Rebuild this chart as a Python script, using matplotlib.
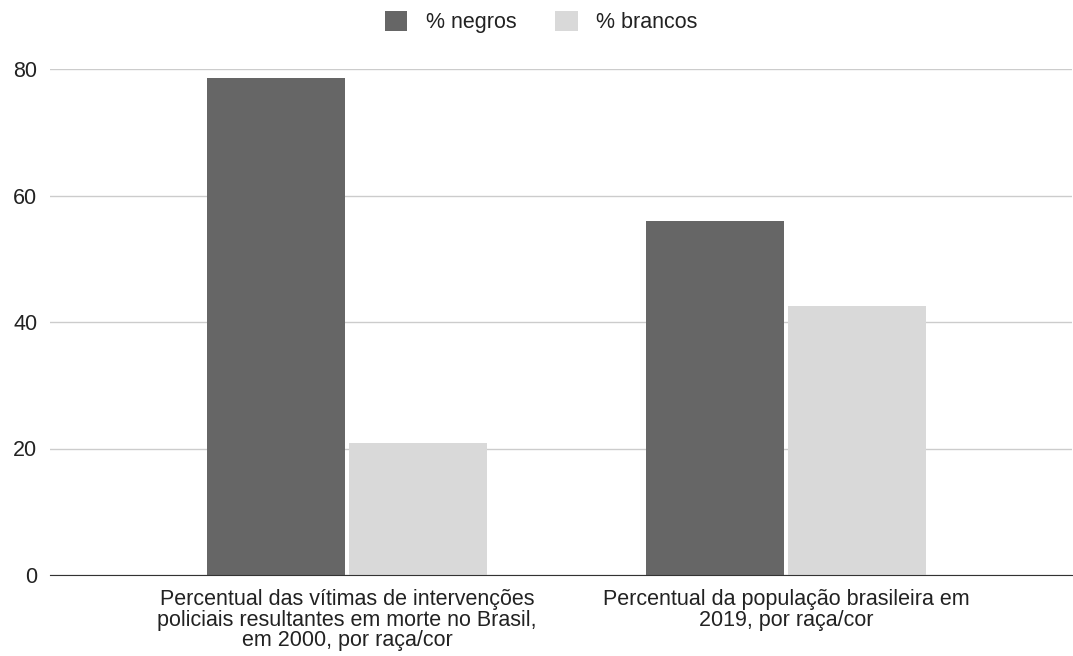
import matplotlib
matplotlib.use('Agg')
import matplotlib.pyplot as plt
import numpy as np

plt.rcParams['font.family'] = ['Liberation Sans', 'DejaVu Sans']

categories = ['Percentual das vítimas de intervenções\npoliciais resultantes em morte no Brasil,\nem 2000, por raça/cor',
              'Percentual da população brasileira em\n2019, por raça/cor']
negros = [78.5, 56.0]
brancos = [20.8, 42.5]
series_names = ['% negros', '% brancos']
yticks = [0, 20, 40, 60, 80]

FS = 15.5
fig = plt.figure(figsize=(10.73, 6.56), dpi=100)
ax = fig.add_axes([50/1073, 1-575/656, 1022/1073, (575-69)/656])

x = np.arange(len(categories))
w = 0.314
gap = 0.009
ax.bar(x - w/2 - gap/2, negros, w, color='#666666', label=series_names[0], zorder=3)
ax.bar(x + w/2 + gap/2, brancos, w, color='#d9d9d9', label=series_names[1], zorder=3)

ax.set_xlim(-0.677, 1.651)
ax.set_ylim(0, 80)
ax.set_yticks(yticks)
ax.set_xticks(x)
ax.set_xticklabels(categories, fontsize=FS, color='#222222', linespacing=0.98)
ax.tick_params(axis='both', length=0, labelsize=FS, labelcolor='#222222')
ax.tick_params(axis='y', pad=9)
ax.tick_params(axis='x', pad=10)
ax.grid(axis='y', color='#cccccc', linewidth=1, zorder=0)
for s in ['top', 'right', 'left']:
    ax.spines[s].set_visible(False)
ax.spines['bottom'].set_color('#333333')
ax.spines['bottom'].set_zorder(4)

fig.legend(loc='center', bbox_to_anchor=(541/1073, 1-22/656), ncol=2, frameon=False,
           fontsize=FS, handlelength=1.05, handleheight=1.05, columnspacing=1.8,
           handletextpad=0.85, labelcolor='#222222')

fig.savefig('out.png', dpi=100)
